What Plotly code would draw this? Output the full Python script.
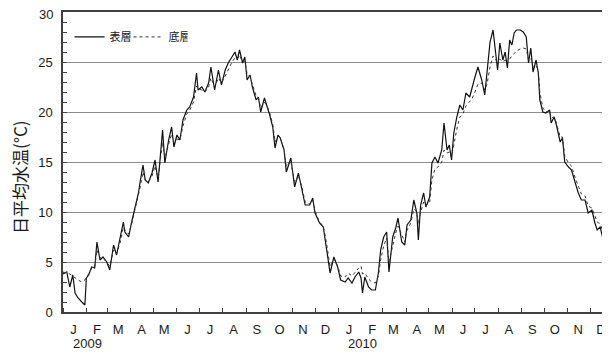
import pandas as pd
import plotly.graph_objects as go

# Day offsets from 2009-01-01 of the sampled daily values
day_offset = [0, 5, 9, 13, 16, 20, 25, 29, 31, 34, 38, 42, 45, 49, 53, 58, 62, 67, 71, 76,
              80, 82, 87, 91, 95, 100, 102, 106, 109, 113, 118, 122, 126, 132, 135, 140, 144, 147, 151, 155,
              159, 164, 168, 173, 177, 179, 184, 188, 193, 196, 201, 206, 210, 215, 219, 224, 228, 231, 234, 238,
              241, 244, 248, 251, 256, 259, 262, 267, 271, 274, 278, 281, 285, 288, 293, 296, 302, 307, 312, 316,
              321, 327, 331, 334, 340, 345, 349, 354, 359, 364, 368, 374, 378, 383, 387, 392, 395, 397, 400, 405,
              409, 414, 418, 421, 425, 429, 432, 437, 441, 444, 449, 453, 456, 461, 465, 469, 471, 474, 478, 481,
              486, 489, 493, 497, 502, 505, 509, 512, 515, 518, 522, 526, 530, 534, 539, 542, 546, 550, 555, 559,
              562, 566, 570, 573, 576, 579, 583, 586, 589, 592, 595, 598, 601, 606, 610, 614, 617, 620, 623, 627,
              630, 632, 636, 640, 645, 647, 651, 654, 659, 662, 665, 670, 674, 679, 683, 687, 692, 696, 701, 705,
              708, 712, 716, 721, 724]

surface = [3.8, 4.0, 2.5, 3.7, 1.9, 1.4, 1.0, 0.7, 3.4, 3.7, 4.5, 4.4, 7.0, 5.2, 5.5, 5.0, 4.2, 6.7, 5.7, 7.4,
           9.0, 8.0, 7.5, 9.0, 10.2, 11.9, 12.9, 14.7, 13.2, 12.9, 13.9, 15.2, 13.0, 18.2, 14.9, 17.2, 18.5, 16.5, 17.7, 17.2,
           19.2, 20.2, 20.5, 21.5, 23.9, 22.2, 22.5, 22.0, 22.9, 24.5, 22.2, 24.2, 22.7, 24.2, 24.9, 25.5, 26.0, 25.2, 26.2, 24.9,
           25.5, 23.2, 23.7, 22.5, 21.2, 21.5, 20.0, 21.4, 20.5, 19.7, 18.5, 16.4, 17.7, 17.4, 16.2, 14.0, 15.4, 12.5, 13.9, 12.5,
           10.7, 10.7, 11.4, 9.9, 8.9, 8.5, 6.5, 3.9, 5.5, 4.5, 3.2, 3.0, 3.4, 2.9, 3.5, 4.0, 3.4, 1.9, 3.5, 2.5,
           2.2, 2.2, 3.9, 6.2, 7.5, 8.0, 4.0, 7.5, 8.4, 9.4, 7.0, 6.7, 8.7, 9.2, 11.2, 9.9, 7.2, 10.7, 11.9, 10.5,
           11.5, 14.9, 15.5, 14.9, 16.2, 18.9, 16.2, 16.7, 15.2, 17.9, 19.5, 20.7, 20.2, 21.9, 21.5, 22.5, 23.5, 24.5, 23.2, 21.7,
           24.2, 27.0, 28.2, 25.9, 24.2, 26.9, 25.2, 26.0, 24.4, 27.2, 26.7, 27.9, 28.2, 28.2, 28.0, 27.5, 24.9, 26.4, 24.0, 25.2,
           23.9, 21.2, 20.0, 19.9, 20.2, 18.9, 19.5, 18.7, 17.0, 17.4, 15.0, 14.5, 14.2, 12.9, 11.9, 11.2, 11.2, 9.9, 10.2, 8.9,
           8.2, 8.5, 7.2, 6.5, 5.2]

bottom = [4.0, 3.9, 3.8, 3.6, 3.4, 3.2, 3.0, 3.2, 3.5, 3.8, 4.4, 4.5, 6.2, 5.4, 5.4, 5.0, 4.6, 6.2, 5.8, 7.0,
          8.5, 8.2, 7.8, 8.8, 10.0, 11.5, 12.4, 14.0, 13.2, 13.0, 13.6, 14.6, 13.4, 17.0, 15.4, 16.8, 17.8, 16.9, 17.3, 17.2,
          18.6, 19.8, 20.2, 21.0, 22.6, 22.3, 22.2, 22.0, 22.5, 23.4, 22.5, 23.4, 22.9, 23.6, 24.3, 25.0, 25.4, 25.3, 25.7, 25.0,
          25.1, 23.8, 23.5, 22.8, 21.6, 21.4, 20.4, 21.0, 20.5, 19.9, 18.8, 17.0, 17.6, 17.4, 16.3, 14.5, 15.1, 12.9, 13.6, 12.7,
          11.0, 10.8, 11.2, 10.1, 9.0, 8.6, 7.0, 4.5, 5.3, 4.6, 3.6, 3.5, 3.9, 3.6, 4.0, 4.4, 4.6, 3.8, 3.9, 3.3,
          3.0, 2.9, 3.6, 5.2, 6.6, 7.4, 5.0, 6.8, 7.9, 8.6, 7.6, 7.0, 8.2, 8.9, 10.3, 10.0, 8.8, 10.0, 11.0, 10.6,
          11.0, 13.2, 14.3, 14.5, 15.0, 16.2, 15.9, 16.0, 15.5, 16.8, 18.3, 19.5, 19.8, 20.6, 21.0, 21.3, 22.0, 22.8, 22.9, 22.2,
          22.8, 24.5, 25.6, 25.4, 24.7, 25.3, 25.0, 25.2, 24.8, 25.3, 25.6, 25.8, 26.1, 26.3, 26.4, 26.3, 25.2, 25.4, 24.5, 24.6,
          24.2, 22.0, 20.4, 20.0, 20.1, 19.4, 19.5, 18.9, 17.5, 17.5, 15.6, 14.9, 14.6, 13.4, 12.5, 11.8, 11.6, 10.6, 10.4, 9.5,
          9.0, 8.8, 8.0, 7.5, 6.8]

month_labels = ["J", "F", "M", "A", "M", "J", "J", "A", "S", "O", "N", "D"] * 2
years = ["2009", "2010"]
series_names = ["表層", "底層"]
y_ticks = [0, 5, 10, 15, 20, 25, 30]

start = pd.Timestamp("2009-01-01")
dates = start + pd.to_timedelta(day_offset, unit="D")
month_starts = pd.date_range("2009-01-01", periods=24, freq="MS")
month_mids = month_starts + pd.Timedelta(days=14)

fig = go.Figure()
fig.add_trace(go.Scatter(x=dates, y=surface, mode="lines", name=series_names[0],
                         line=dict(color="#111111", width=1.2)))
fig.add_trace(go.Scatter(x=dates, y=bottom, mode="lines", name=series_names[1],
                         line=dict(color="#333333", width=1, dash="dot")))

for yr in years:
    fig.add_annotation(x=pd.Timestamp(f"{yr}-01-11"), xref="x", y=-0.105, yref="paper",
                       text=yr, showarrow=False, xanchor="left", yanchor="middle",
                       font=dict(size=13, color="#1a1a1a"))

# top tick label (the axis drops it at the very top edge of the page)
fig.add_annotation(x=0, xref="paper", y=y_ticks[-1], yref="y", text=str(y_ticks[-1]),
                   showarrow=False, xanchor="right", yanchor="middle", xshift=-8, yshift=-2,
                   font=dict(size=13, color="#1a1a1a"))

fig.add_annotation(x=-0.0804, xref="paper", y=0.45, yref="paper", text="日平均水温(°C)",
                   textangle=-90, showarrow=False, xanchor="center", yanchor="middle",
                   font=dict(size=17, color="#1a1a1a", family="Noto Sans CJK JP"))

fig.update_layout(
    width=602, height=346,
    margin=dict(l=55, r=0, t=4, b=42, autoexpand=False),
    paper_bgcolor="white", plot_bgcolor="white",
    font=dict(family="Arial, Liberation Sans, Noto Sans CJK JP", size=13, color="#1a1a1a"),
    showlegend=True,
    legend=dict(orientation="h", x=0.012, y=0.917, xanchor="left", yanchor="middle",
                bgcolor="rgba(0,0,0,0)", font=dict(size=11, family="Noto Sans CJK JP"),
                itemwidth=30, tracegroupgap=0, entrywidth=14, entrywidthmode="pixels"),
)
fig.update_xaxes(
    range=[pd.Timestamp("2009-01-01"), pd.Timestamp("2010-12-27")],
    tickmode="array", tickvals=month_mids, ticktext=month_labels,
    ticks="", showgrid=False, zeroline=False, automargin=False,
    showline=True, linecolor="#404040", linewidth=1.5, mirror=True,
    minor=dict(ticks="inside", ticklen=4, tickcolor="#404040", dtick="M1",
               tick0="2009-01-01", showgrid=False),
    ticklabelstandoff=5,
    tickfont=dict(size=13),
)
fig.update_yaxes(
    range=[0, 30], tickmode="array", tickvals=y_ticks[:-1], automargin=False,
    ticks="inside", ticklen=4, tickcolor="#404040",
    showgrid=True, gridcolor="#8c8c8c", gridwidth=1, zeroline=False,
    showline=True, linecolor="#404040", linewidth=1.5,
    minor=dict(ticks="inside", ticklen=4, tickcolor="#404040", dtick=1, tick0=0, showgrid=False),
    ticklabelstandoff=6,
    tickfont=dict(size=13),
)

fig.write_html("out.html")
